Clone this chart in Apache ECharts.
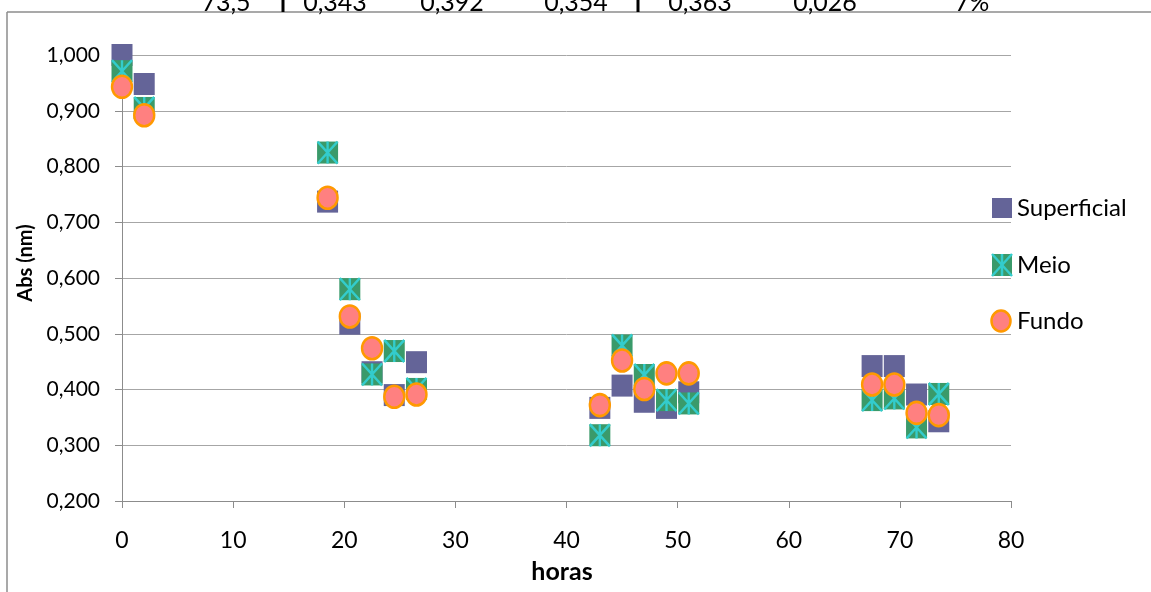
<!DOCTYPE html>
<html><head><meta charset="utf-8">
<script src="https://cdn.jsdelivr.net/npm/echarts@6/dist/echarts.min.js"></script>
<style>html,body{margin:0;padding:0;background:#fff}#c{width:1151px;height:592px}</style>
</head><body><div id="c"></div><script>
// ---- data ----
const horas = [0, 2, 18.5, 20.5, 22.5, 24.5, 26.5, 43, 45, 47, 49, 51, 67.5, 69.5, 71.5, 73.5];
const superficial = [1.000, 0.948, 0.737, 0.518, 0.431, 0.390, 0.449, 0.367, 0.407, 0.378, 0.367, 0.395, 0.442, 0.442, 0.391, 0.343];
const meio        = [0.971, 0.905, 0.825, 0.580, 0.427, 0.469, 0.401, 0.318, 0.479, 0.426, 0.381, 0.375, 0.381, 0.384, 0.332, 0.392];
const fundo       = [0.943, 0.892, 0.744, 0.531, 0.474, 0.387, 0.391, 0.372, 0.452, 0.401, 0.429, 0.429, 0.409, 0.409, 0.358, 0.354];
const seriesNames = ['Superficial', 'Meio', 'Fundo'];
const xTickLabels = ['0', '10', '20', '30', '40', '50', '60', '70', '80'];
const yTickLabels = ['0,200', '0,300', '0,400', '0,500', '0,600', '0,700', '0,800', '0,900', '1,000'];
const xTitle = 'horas';
const yTitle = 'Abs (nm)';
const topRowTexts = ['73,5', '0,343', '0,392', '0,354', '0,363', '0,026', '7%'];

// ---- styling ----
const FONT = 'Lato, "Liberation Sans", sans-serif';
const C_SUP = '#646498', C_MEIO = '#3A9A6A', C_AST = '#33CCCC', C_FUN = '#FF8080', C_FUNB = '#FF9900';
const AST_PATH = 'path://M0,0L20,20M20,0L0,20M10,0L10,20';
const ELL_PATH = 'path://M10,0A10,10 0 1,1 10,20A10,10 0 1,1 10,0Z';

const pts = arr => horas.map((h, i) => [h, arr[i]]);

const chart = echarts.init(document.getElementById('c'), null, {renderer: 'canvas'});

const topX = [226, 335, 452, 576, 700, 825, 972];
const graphics = [];
// outer chart border (top and left)
graphics.push({type: 'line', shape: {x1: 7, y1: 12, x2: 1151, y2: 12}, style: {stroke: '#8c8c8c', lineWidth: 1.5}, silent: true});
graphics.push({type: 'line', shape: {x1: 7, y1: 12, x2: 7, y2: 592}, style: {stroke: '#8c8c8c', lineWidth: 1.5}, silent: true});
// clipped table row above
topRowTexts.forEach((t, i) => graphics.push({type: 'text', x: topX[i], y: 15, style: {text: t, font: '25px ' + FONT, fill: '#000', align: 'center', verticalAlign: 'bottom'}}));
[283, 638].forEach(x => graphics.push({type: 'rect', shape: {x: x - 1.5, y: 0, width: 3, height: 12}, style: {fill: '#000'}}));
// axis titles
graphics.push({type: 'text', x: 562, y: 572, style: {text: xTitle, font: 'bold 25px ' + FONT, fill: '#000', align: 'center', verticalAlign: 'middle'}});
graphics.push({type: 'text', x: 26, y: 263, rotation: Math.PI / 2, style: {text: yTitle, font: 'bold 20px ' + FONT, fill: '#000', align: 'center', verticalAlign: 'middle'}});
// legend
const legY = [208, 265, 321];
graphics.push({type: 'rect', shape: {x: 992, y: legY[0] - 10, width: 20, height: 20}, style: {fill: C_SUP}});
graphics.push({type: 'rect', shape: {x: 992, y: legY[1] - 11, width: 20, height: 22}, style: {fill: C_MEIO}});
graphics.push({type: 'polyline', shape: {points: [[992, legY[1] - 11], [1012, legY[1] + 11]]}, style: {stroke: C_AST, lineWidth: 2.5}});
graphics.push({type: 'polyline', shape: {points: [[1012, legY[1] - 11], [992, legY[1] + 11]]}, style: {stroke: C_AST, lineWidth: 2.5}});
graphics.push({type: 'polyline', shape: {points: [[1002, legY[1] - 11], [1002, legY[1] + 11]]}, style: {stroke: C_AST, lineWidth: 2.5}});
graphics.push({type: 'ellipse', shape: {cx: 1001, cy: legY[2], rx: 9.5, ry: 10.5}, style: {fill: C_FUN, stroke: C_FUNB, lineWidth: 2.5}});
seriesNames.forEach((n, i) => graphics.push({type: 'text', x: 1017, y: legY[i], style: {text: n, font: '24px ' + FONT, fill: '#000', align: 'left', verticalAlign: 'middle'}}));

chart.setOption({
  animation: false,
  backgroundColor: '#fff',
  grid: {left: 122, right: 140, top: 55, bottom: 91},
  xAxis: {
    type: 'value', min: 0, max: 80, interval: 10,
    axisLine: {show: true, onZero: false, lineStyle: {color: '#8c8c8c', width: 1}},
    axisTick: {show: true, inside: false, length: 7, lineStyle: {color: '#8c8c8c'}},
    splitLine: {show: false},
    axisLabel: {margin: 28, color: '#000', fontFamily: FONT, fontSize: 23,
      formatter: v => xTickLabels[Math.round(v / 10)]}
  },
  yAxis: {
    type: 'value', min: 0.2, max: 1.0, interval: 0.1,
    axisLine: {show: true, onZero: false, lineStyle: {color: '#8c8c8c', width: 1}},
    axisTick: {show: true, inside: false, length: 7, lineStyle: {color: '#8c8c8c'}},
    splitLine: {show: true, lineStyle: {color: '#a6a6a6', width: 1}},
    axisLabel: {margin: 22, color: '#000', fontFamily: FONT, fontSize: 21,
      formatter: v => yTickLabels[Math.round((v - 0.2) / 0.1)]}
  },
  graphic: graphics,
  series: [
    {name: seriesNames[0], type: 'scatter', data: pts(superficial), symbol: 'rect', symbolSize: [21, 22],
      itemStyle: {color: C_SUP, opacity: 1}},
    {name: seriesNames[1], type: 'scatter', data: pts(meio), symbol: 'rect', symbolSize: [21, 22],
      itemStyle: {color: C_MEIO, opacity: 1}},
    {name: seriesNames[1], type: 'scatter', data: pts(meio), symbol: AST_PATH, symbolSize: [20, 22],
      itemStyle: {color: 'rgba(0,0,0,0)', borderColor: C_AST, borderWidth: 2.5, opacity: 1}},
    {name: seriesNames[2], type: 'scatter', data: pts(fundo), symbol: ELL_PATH, symbolSize: [20, 22],
      itemStyle: {color: C_FUN, borderColor: C_FUNB, borderWidth: 2.5, opacity: 1}}
  ]
});
</script></body></html>
